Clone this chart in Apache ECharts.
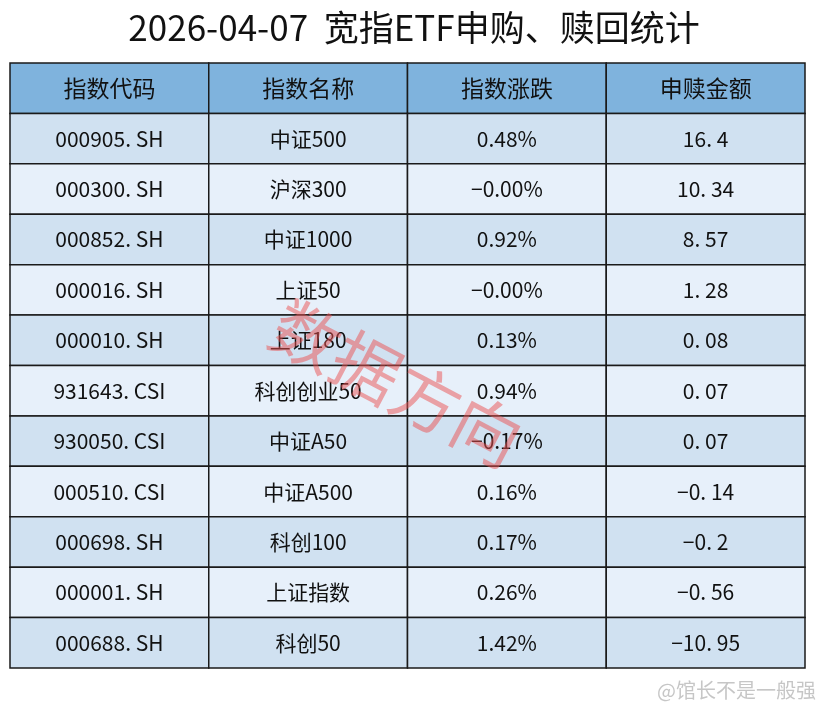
<!DOCTYPE html>
<html><head><meta charset="utf-8">
<script src="https://cdn.jsdelivr.net/npm/echarts@6/dist/echarts.min.js"></script>
<style>html,body{margin:0;background:#fff}#chart{width:828px;height:715px}</style>
</head><body><div id="chart"></div>
<script>
var headers=["指数代码","指数名称","指数涨跌","申赎金额"];
var codes=["000905.SH","000300.SH","000852.SH","000016.SH","000010.SH","931643.CSI","930050.CSI","000510.CSI","000698.SH","000001.SH","000688.SH"];
var names=["中证500","沪深300","中证1000","上证50","上证180","科创创业50","中证A50","中证A500","科创100","上证指数","科创50"];
var changes=["0.48%","-0.00%","0.92%","-0.00%","0.13%","0.94%","-0.17%","0.16%","0.17%","0.26%","1.42%"];
var flows=[16.4,10.34,8.57,1.28,0.08,0.07,0.07,-0.14,-0.2,-0.56,-10.95];

var cells=[];
headers.forEach(function(h,c){cells.push([c,0,h]);});
for(var i=0;i<codes.length;i++){
  cells.push([0,i+1,codes[i].replace(".",". ")]);
  cells.push([1,i+1,names[i]]);
  cells.push([2,i+1,changes[i].replace("-","−")]);
  cells.push([3,i+1,String(flows[i]).replace(".",". ").replace("-","−")]);
}
var chart=echarts.init(document.getElementById("chart"));
chart.setOption({
  animation:false,
  title:{text:"2026-04-07  宽指ETF申购、赎回统计",left:"center",top:5,
    textStyle:{fontSize:35,fontWeight:"normal",color:"#111",fontFamily:"Noto Sans CJK SC"}},
  grid:{left:10,right:23,top:63,bottom:47},
  xAxis:{type:"value",min:0,max:4,show:false},
  yAxis:{type:"value",min:0,max:12,inverse:true,show:false},
  graphic:[
    {type:"text",x:292,y:290,rotation:-Math.PI/6.5,z:100,
      style:{text:"数据方向",fontSize:68,fill:"rgba(235,80,80,0.5)",fontFamily:"Noto Sans CJK SC"}},
    {type:"text",right:12,top:680,z:100,
      style:{text:"@馆长不是一般强",fontSize:20,fill:"rgba(160,160,160,0.6)",fontFamily:"Noto Sans CJK SC"}}
  ],
  series:[{
    type:"custom",data:cells,
    renderItem:function(params,api){
      var c=api.value(0),r=api.value(1);
      var p0=api.coord([c,r]),p1=api.coord([c+1,r+1]);
      var fill=r===0?"#7fb3dd":(r%2===1?"#d0e1f1":"#e7f0fa");
      return {type:"group",children:[
        {type:"rect",shape:{x:p0[0],y:p0[1],width:p1[0]-p0[0],height:p1[1]-p0[1]},
          style:{fill:fill,stroke:"#1a1a1a",lineWidth:1.5}},
        {type:"text",style:{text:cells[params.dataIndex][2],x:(p0[0]+p1[0])/2,y:(p0[1]+p1[1])/2,
          align:"center",verticalAlign:"middle",fontSize:r===0?23:21,fill:"#111",
          fontFamily:"Noto Sans CJK SC"}}
      ]};
    }
  }]
});
</script></body></html>
